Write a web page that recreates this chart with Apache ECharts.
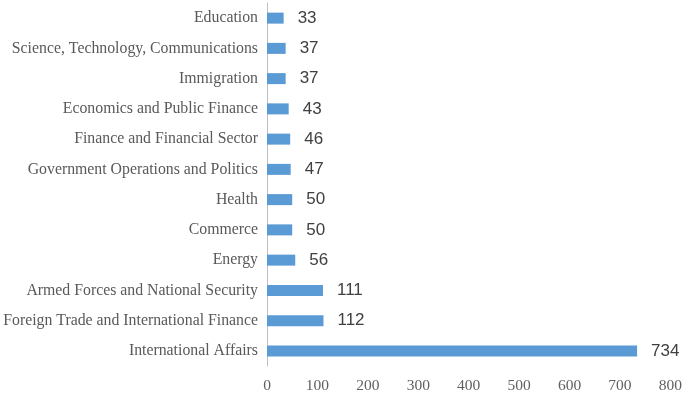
<!DOCTYPE html>
<html lang="en" style="height: 100%">
<head>
  <meta charset="utf-8">
  <script type="text/javascript" src="https://cdn.jsdelivr.net/npm/echarts@6/dist/echarts.min.js"></script>
</head>
<body style="height: 100%; margin: 0">
  <div id="bar" style="height: 395px; width: 685px"></div>
  <script type="text/javascript">
    // bottom to top, as drawn
    var topics = [
      'International Affairs',
      'Foreign Trade and International Finance',
      'Armed Forces and National Security',
      'Energy',
      'Commerce',
      'Health',
      'Government Operations and Politics',
      'Finance and Financial Sector',
      'Economics and Public Finance',
      'Immigration',
      'Science, Technology, Communications',
      'Education'
    ];
    var counts = [734, 112, 111, 56, 50, 50, 47, 46, 43, 37, 37, 33];

    var chart = echarts.init(document.getElementById('bar'));
    var option = {
      animation: false,
      grid: { left: 267, right: 14, top: 3, bottom: 29 },
      xAxis: {
        type: 'value',
        min: 0,
        max: 800,
        interval: 100,
        axisLine: { show: false },
        axisTick: { show: false },
        splitLine: { show: false },
        axisLabel: {
          fontFamily: 'Liberation Serif',
          fontSize: 15.5,
          color: '#606060',
          margin: 12
        }
      },
      yAxis: {
        type: 'category',
        data: topics,
        axisLine: { lineStyle: { color: '#bfbfbf', width: 1 } },
        axisTick: { length: 4, lineStyle: { color: '#bfbfbf' } },
        axisLabel: {
          fontFamily: 'Liberation Serif',
          fontSize: 15.8,
          color: '#595959',
          margin: 9
        }
      },
      series: [{
        type: 'bar',
        data: counts,
        barWidth: 11,
        itemStyle: { color: '#5b9bd5' },
        label: {
          show: true,
          position: 'right',
          distance: 14,
          fontFamily: 'Liberation Sans',
          fontSize: 17,
          color: '#404040'
        }
      }]
    };
    chart.setOption(option);
  </script>
</body>
</html>
